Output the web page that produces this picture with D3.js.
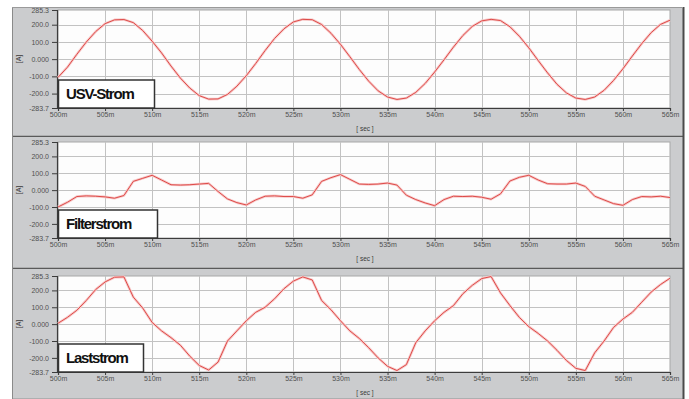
<!DOCTYPE html>
<html>
<head>
<meta charset="utf-8">
<script src="https://cdn.jsdelivr.net/npm/d3@7/dist/d3.min.js"></script>
<style>
  html, body { margin: 0; padding: 0; background: #ffffff; }
  svg { display: block; }
</style>
</head>
<body>
<svg id="chart" width="689" height="399"></svg>
<script>
// time axis in ms, 1 ms steps
const timeMs = [500,501,502,503,504,505,506,507,508,509,510,511,512,513,514,515,516,517,518,519,
  520,521,522,523,524,525,526,527,528,529,530,531,532,533,534,535,536,537,538,539,
  540,541,542,543,544,545,546,547,548,549,550,551,552,553,554,555,556,557,558,559,
  560,561,562,563,564,565];

// USV-Strom [A]
const usvStrom = [-106,-47,28,99,160,206,228,230,212,166,104,36,-40,-110,-168,-212,-232,-231,-205,-157,
  -96,-25,50,120,176,216,231,229,201,150,86,14,-60,-128,-184,-220,-234,-226,-193,-141,
  -75,-4,70,137,190,222,231,224,188,133,66,-8,-80,-146,-196,-226,-234,-220,-181,-124,
  -56,18,90,154,202,226];

// Filterstrom [A]
const filterStrom = [-100,-72,-38,-34,-36,-40,-48,-32,52,70,88,60,32,30,32,36,40,-8,-52,-74,
  -88,-58,-36,-34,-38,-38,-48,-28,52,74,92,64,36,34,36,42,30,-30,-56,-76,
  -92,-56,-36,-38,-36,-42,-54,-22,54,76,88,60,38,36,36,42,22,-36,-58,-80,
  -90,-56,-38,-40,-36,-44];

// Laststrom [A]
const lastStrom = [5,40,82,140,205,250,278,280,160,95,10,-40,-80,-125,-190,-245,-272,-225,-100,-40,
  20,70,100,150,210,255,280,262,140,85,20,-40,-85,-140,-200,-250,-275,-240,-110,-40,
  20,70,110,180,230,270,282,185,110,40,-15,-55,-100,-155,-215,-262,-275,-170,-100,-20,
  30,70,130,190,235,272];

const seriesNames = ["USV-Strom", "Filterstrom", "Laststrom"];
const seriesValues = [usvStrom, filterStrom, lastStrom];

const yTickValues = [285.3, 200, 100, 0, -100, -200, -283.7];
const yTickLabels = ["285.3", "200.0", "100.0", "0.000", "-100.0", "-200.0", "-283.7"];
const xTickValues = [500,505,510,515,520,525,530,535,540,545,550,555,560,565];
const xTickLabels = ["500m","505m","510m","515m","520m","525m","530m","535m","540m","545m","550m","555m","560m","565m"];
const yUnit = "[A]";
const xUnit = "[ sec ]";

// layout of the three stacked panels
const panels = [
  {top: 7,   bottom: 136, plotTop: 10,  plotBottom: 108, boxW: 96},
  {top: 137, bottom: 268, plotTop: 142, plotBottom: 238, boxW: 99},
  {top: 269, bottom: 399, plotTop: 276, plotBottom: 372, boxW: 85}
];
const plotLeft = 58, plotRight = 670;
const frameLeft = 12, frameRight = 683;

const svg = d3.select('#chart');

const x = d3.scaleLinear()
  .domain([500, 565])
  .range([plotLeft, plotRight]);

panels.forEach((p, i) => {
  const g = svg.append('g');

  // gray panel background
  g.append('rect')
    .attr('x', frameLeft).attr('y', p.top)
    .attr('width', frameRight - frameLeft).attr('height', p.bottom - p.top)
    .attr('fill', '#cbccce');

  // separator lines
  g.append('line')
    .attr('x1', frameLeft).attr('x2', frameRight)
    .attr('y1', p.bottom + 0.5).attr('y2', p.bottom + 0.5)
    .attr('stroke', '#5a5a5a').attr('stroke-width', 1.5);

  const y = d3.scaleLinear()
    .domain([-283.7, 285.3])
    .range([p.plotBottom, p.plotTop]);

  // white plot area
  g.append('rect')
    .attr('x', plotLeft).attr('y', p.plotTop)
    .attr('width', plotRight - plotLeft).attr('height', p.plotBottom - p.plotTop)
    .attr('fill', '#fdfdfd')
    .attr('stroke', '#a8a8a8');

  // grid lines
  g.append('g')
    .selectAll('line.v')
    .data(xTickValues.slice(1, -1))
    .enter().append('line')
    .attr('x1', d => Math.round(x(d)) + 0.5).attr('x2', d => Math.round(x(d)) + 0.5)
    .attr('y1', p.plotTop).attr('y2', p.plotBottom)
    .attr('stroke', '#c2c2c2');

  g.append('g')
    .selectAll('line.h')
    .data(yTickValues.slice(1, -1))
    .enter().append('line')
    .attr('x1', plotLeft).attr('x2', plotRight)
    .attr('y1', d => Math.round(y(d)) + 0.5).attr('y2', d => Math.round(y(d)) + 0.5)
    .attr('stroke', '#c2c2c2');

  // axes
  const yAxis = g.append('g')
    .attr('transform', `translate(${plotLeft - 1}, 0)`)
    .call(d3.axisLeft(y)
      .tickValues(yTickValues)
      .tickFormat((d, k) => yTickLabels[k])
      .tickSize(5).tickPadding(3));

  const xAxis = g.append('g')
    .attr('transform', `translate(0, ${p.plotBottom})`)
    .call(d3.axisBottom(x)
      .tickValues(xTickValues)
      .tickFormat((d, k) => xTickLabels[k])
      .tickSize(3).tickPadding(1));

  [yAxis, xAxis].forEach(a => {
    a.select('.domain').attr('stroke', '#3c3c3c').attr('stroke-width', 1.2);
    a.selectAll('.tick line').attr('stroke', '#3c3c3c');
    a.selectAll('text')
      .attr('fill', '#505050')
      .style('font', '7px "Liberation Sans", Arial, sans-serif');
  });

  // unit labels
  g.append('text')
    .attr('transform', `translate(21, ${(p.plotTop + p.plotBottom) / 2}) rotate(-90)`)
    .attr('text-anchor', 'middle')
    .attr('fill', '#3a3a3a')
    .style('font', '7px "Liberation Sans", Arial, sans-serif')
    .text(yUnit);

  g.append('text')
    .attr('x', 365).attr('y', p.plotBottom + 23)
    .attr('text-anchor', 'middle')
    .attr('fill', '#3a3a3a')
    .style('font', '6.5px "Liberation Sans", Arial, sans-serif')
    .text(xUnit);

  // the curve
  const line = d3.line()
    .x((d, k) => x(timeMs[k]))
    .y(d => y(d));

  g.append('path')
    .datum(seriesValues[i])
    .attr('d', line)
    .attr('fill', 'none')
    .attr('stroke', '#f7caca')
    .attr('stroke-width', 2.6)
    .attr('stroke-linejoin', 'round');

  g.append('path')
    .datum(seriesValues[i])
    .attr('d', line)
    .attr('fill', 'none')
    .attr('stroke', '#de4a48')
    .attr('stroke-width', 1)
    .attr('stroke-linejoin', 'round');

  // name box
  g.append('rect')
    .attr('x', plotLeft + 0.5).attr('y', p.plotBottom - 28)
    .attr('width', p.boxW).attr('height', 28)
    .attr('fill', '#ffffff')
    .attr('stroke', '#333333').attr('stroke-width', 1.5);

  g.append('text')
    .attr('x', plotLeft + 8).attr('y', p.plotBottom - 9)
    .attr('fill', '#111111')
    .style('font', 'bold 15px "Liberation Sans", Arial, sans-serif')
    .style('letter-spacing', '-1.2px')
    .text(seriesNames[i]);
});

// outer frame
svg.append('line')
  .attr('x1', frameLeft + 0.5).attr('x2', frameLeft + 0.5)
  .attr('y1', 7).attr('y2', 399)
  .attr('stroke', '#8a8a8a');
svg.append('line')
  .attr('x1', frameRight + 0.5).attr('x2', frameRight + 0.5)
  .attr('y1', 7).attr('y2', 399)
  .attr('stroke', '#4a4a4a').attr('stroke-width', 2);
svg.append('line')
  .attr('x1', frameLeft).attr('x2', frameRight)
  .attr('y1', 7.5).attr('y2', 7.5)
  .attr('stroke', '#9a9a9a');
</script>
</body>
</html>
